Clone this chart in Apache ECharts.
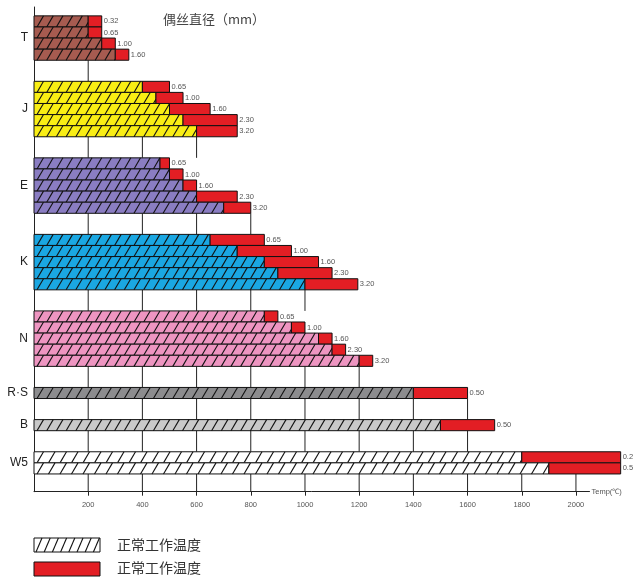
<!DOCTYPE html>
<html>
<head>
<meta charset="utf-8">
<script src="https://cdn.jsdelivr.net/npm/echarts@6/dist/echarts.min.js"></script>
<style>
  html, body { margin: 0; padding: 0; background: #fff; }
  #chart { width: 634px; height: 577px; }
</style>
</head>
<body>
<div id="chart"></div>
<script>
// 分度号
const groups = ['T', 'J', 'E', 'K', 'N', 'R·S', 'B', 'W5'];
// 偶丝直径 (mm)
const diameters = [
  ['0.32', '0.65', '1.00', '1.60'],
  ['0.65', '1.00', '1.60', '2.30', '3.20'],
  ['0.65', '1.00', '1.60', '2.30', '3.20'],
  ['0.65', '1.00', '1.60', '2.30', '3.20'],
  ['0.65', '1.00', '1.60', '2.30', '3.20'],
  ['0.50'],
  ['0.50'],
  ['0.2', '0.5']
];
// 正常工作温度
const normalTemp = [
  [200, 200, 250, 300],
  [400, 450, 500, 550, 600],
  [465, 500, 550, 600, 700],
  [650, 750, 850, 900, 1000],
  [850, 950, 1050, 1100, 1200],
  [1400],
  [1500],
  [1800, 1900]
];
// 最高使用温度
const maxTemp = [
  [250, 250, 300, 350],
  [500, 550, 650, 750, 750],
  [500, 550, 600, 750, 800],
  [850, 950, 1050, 1100, 1195],
  [900, 1000, 1100, 1150, 1250],
  [1600],
  [1700],
  [2165, 2165]
];
const xTicks = [200, 400, 600, 800, 1000, 1200, 1400, 1600, 1800, 2000];
const legendNames = ['正常工作温度', '正常工作温度'];

const groupColors = ['#A65B50', '#F9EE14', '#8A7DC2', '#1AA7E2', '#EE95C1', '#8C8C8E', '#C9C9C9', '#FFFFFF'];
const RED = '#E31E24';
const GAP = 1.9;      // 组间空行
const TOP = -0.8;
const BOTTOM_PAD = 1.6;

// 行位置
let rows = [];
let groupInfo = [];
let slot = 0;
groups.forEach((g, gi) => {
  let start = slot;
  normalTemp[gi].forEach((v, i) => {
    rows.push([v, maxTemp[gi][i], slot, gi, diameters[gi][i]]);
    slot += 1;
  });
  groupInfo.push({ name: g, start: start, end: slot, max: Math.max(...maxTemp[gi]) });
  slot += GAP;
});
const yMax = slot - GAP + BOTTOM_PAD;

// 组间竖线
let gridSegs = [];
groupInfo.forEach((g, gi) => {
  let next = gi < groupInfo.length - 1 ? groupInfo[gi + 1].start : yMax;
  xTicks.forEach(t => {
    if (t <= g.max) gridSegs.push([t, g.end, next]);
  });
});
let labelData = groupInfo.map(g => [g.start, g.end, g.name]);

function hatchLines(x0, x1, yTop, yBot, origin, spacing, dx) {
  let lines = [];
  let h = yBot - yTop;
  let k = Math.floor((x0 - dx - origin) / spacing);
  for (let b = origin + k * spacing; b < x1; b += spacing) {
    let t0 = Math.max(0, (x0 - b) / dx);
    let t1 = Math.min(1, (x1 - b) / dx);
    if (t1 - t0 <= 0.02) continue;
    lines.push({
      type: 'line',
      shape: { x1: b + t0 * dx, y1: yBot - t0 * h, x2: b + t1 * dx, y2: yBot - t1 * h },
      style: { stroke: '#111', lineWidth: 1.1 }
    });
  }
  return lines;
}

function renderBar(params, api) {
  let normal = api.value(0), max = api.value(1), s = api.value(2), gi = api.value(3);
  let origin = api.coord([0, s])[0];
  let p0 = api.coord([0, s]);
  let p1 = api.coord([normal, s + 1]);
  let p2 = api.coord([max, s + 1]);
  let yTop = p0[1], yBot = p1[1];
  let spacing = gi === 7 ? 11.5 : 9.7;
  let children = [];
  children.push({
    type: 'rect',
    shape: { x: p0[0], y: yTop, width: p1[0] - p0[0], height: yBot - yTop },
    style: { fill: groupColors[gi], stroke: null }
  });
  children = children.concat(hatchLines(p0[0], p1[0], yTop, yBot, origin + 3, spacing, 6.5));
  children.push({
    type: 'rect',
    shape: { x: p0[0], y: yTop, width: p1[0] - p0[0], height: yBot - yTop },
    style: { fill: null, stroke: '#111', lineWidth: 1 }
  });
  children.push({
    type: 'rect',
    shape: { x: p1[0], y: yTop, width: p2[0] - p1[0], height: yBot - yTop },
    style: { fill: RED, stroke: '#111', lineWidth: 1 }
  });
  children.push({
    type: 'text',
    style: {
      text: rows[params.dataIndex][4], x: p2[0] + 2, y: (yTop + yBot) / 2,
      verticalAlign: 'middle', align: 'left',
      fontSize: 7.5, fill: '#555', fontFamily: 'Liberation Sans, Arial'
    }
  });
  return { type: 'group', children: children };
}

function renderGrid(params, api) {
  let a = api.coord([api.value(0), api.value(1)]);
  let b = api.coord([api.value(0), api.value(2)]);
  return {
    type: 'line',
    shape: { x1: a[0], y1: a[1], x2: b[0], y2: b[1] },
    style: { stroke: '#222', lineWidth: 1 }
  };
}

function renderLabel(params, api) {
  let p = api.coord([0, (api.value(0) + api.value(1)) / 2]);
  return {
    type: 'text',
    style: {
      text: labelData[params.dataIndex][2], x: p[0] - 6, y: p[1],
      align: 'right', verticalAlign: 'middle',
      fontSize: 12, fill: '#222', fontFamily: 'Liberation Sans, Arial'
    }
  };
}

// 图例
function legendGraphic() {
  let els = [];
  let hx0 = 34, hx1 = 100, hy0 = 538, hy1 = 552;
  els.push({ type: 'rect', shape: { x: hx0, y: hy0, width: hx1 - hx0, height: hy1 - hy0 }, style: { fill: '#fff', stroke: null } });
  hatchLines(hx0, hx1, hy0, hy1, hx0 + 2, 8.2, 6).forEach(l => els.push(l));
  els.push({ type: 'rect', shape: { x: hx0, y: hy0, width: hx1 - hx0, height: hy1 - hy0 }, style: { fill: null, stroke: '#111', lineWidth: 1 } });
  els.push({ type: 'rect', shape: { x: 34, y: 562, width: 66, height: 14 }, style: { fill: RED, stroke: '#111', lineWidth: 1 } });
  legendNames.forEach((n, i) => {
    els.push({
      type: 'text', x: 117, y: i === 0 ? 545 : 568,
      style: { text: n, fontSize: 14, fill: '#333', verticalAlign: 'middle', fontFamily: 'Noto Sans CJK SC' }
    });
  });
  els.push({
    type: 'text', x: 163, y: 19,
    style: { text: '偶丝直径（mm）', fontSize: 13, fill: '#444', verticalAlign: 'middle', fontFamily: 'Noto Sans CJK SC' }
  });
  return els;
}

let chart = echarts.init(document.getElementById('chart'));
chart.setOption({
  animation: false,
  backgroundColor: '#fff',
  grid: { left: 34, right: 44.5, top: 7, bottom: 85.3, containLabel: false },
  xAxis: {
    type: 'value', min: 0, max: 2050, interval: 200,
    name: 'Temp(℃)', nameLocation: 'end', nameGap: 2,
    nameTextStyle: { fontSize: 7.5, color: '#555', padding: [11, 0, 0, 0], fontFamily: 'Liberation Sans, Arial' },
    axisLine: { onZero: false, lineStyle: { color: '#222', width: 1 } },
    axisTick: { show: true, customValues: xTicks, length: 4, lineStyle: { color: '#222' } },
    axisLabel: {
      customValues: xTicks, fontSize: 7.5, color: '#555', margin: 9, fontFamily: 'Liberation Sans, Arial',
      formatter: function (v) { return String(v); }
    },
    splitLine: { show: false }
  },
  yAxis: {
    type: 'value', inverse: true, min: TOP, max: yMax,
    axisLine: { show: true, onZero: false, lineStyle: { color: '#222', width: 1 } },
    axisTick: { show: false }, axisLabel: { show: false }, splitLine: { show: false }
  },
  graphic: legendGraphic(),
  series: [
    { type: 'custom', name: 'grid', renderItem: renderGrid, data: gridSegs, clip: false, silent: true, z: 1 },
    { type: 'custom', name: 'bars', renderItem: renderBar, data: rows, clip: false, z: 2 },
    { type: 'custom', name: 'labels', renderItem: renderLabel, data: labelData, clip: false, silent: true, z: 3 }
  ]
});
</script>
</body>
</html>
